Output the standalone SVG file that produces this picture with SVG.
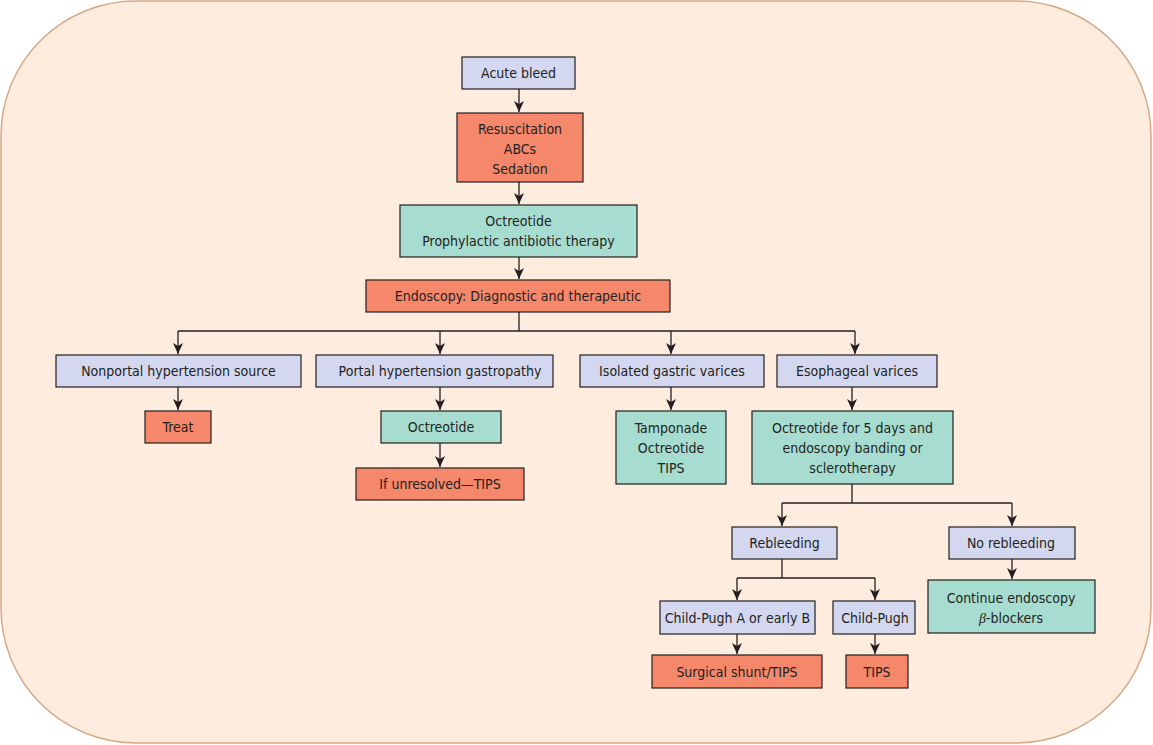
<svg xmlns="http://www.w3.org/2000/svg" width="1153" height="745" viewBox="0 0 1153 745">
<style>
.bg{fill:#FEEDDE;stroke:#D9A784;stroke-width:1.5}
.b{fill:#D3D8F0;stroke:#231F20;stroke-width:1.2}
.s{fill:#F5876A;stroke:#231F20;stroke-width:1.2}
.t{fill:#A6DDD0;stroke:#231F20;stroke-width:1.2}
text{font-family:"Liberation Sans Narrow","DejaVu Sans Condensed","Roboto",sans-serif;font-size:14px;fill:#231F20;text-anchor:middle}
.c{fill:none;stroke:#231F20;stroke-width:1.3}
</style>
<defs>
<marker id="ah" markerWidth="12" markerHeight="12" refX="11" refY="5" orient="auto" markerUnits="userSpaceOnUse">
<path d="M0,0 L11,5 L0,10 L3,5 Z" fill="#231F20"/>
</marker>
</defs>
<rect class="bg" x="1" y="1" width="1150" height="742" rx="135" ry="135"/>
<g id="connectors">
<path class="c" d="M519,89 V112" marker-end="url(#ah)"/>
<path class="c" d="M519,182 V204" marker-end="url(#ah)"/>
<path class="c" d="M519,257 V279" marker-end="url(#ah)"/>
<path class="c" d="M519,312 V331 M178,331 H855"/>
<path class="c" d="M178,331 V354" marker-end="url(#ah)"/>
<path class="c" d="M440,331 V354" marker-end="url(#ah)"/>
<path class="c" d="M671,331 V354" marker-end="url(#ah)"/>
<path class="c" d="M855,331 V354" marker-end="url(#ah)"/>
<path class="c" d="M178,387 V410" marker-end="url(#ah)"/>
<path class="c" d="M440,387 V410" marker-end="url(#ah)"/>
<path class="c" d="M440,443 V467" marker-end="url(#ah)"/>
<path class="c" d="M671,387 V410" marker-end="url(#ah)"/>
<path class="c" d="M852,387 V410" marker-end="url(#ah)"/>
<path class="c" d="M852,484 V503 M782,503 H1012"/>
<path class="c" d="M782,503 V526" marker-end="url(#ah)"/>
<path class="c" d="M1012,503 V526" marker-end="url(#ah)"/>
<path class="c" d="M1012,559 V579" marker-end="url(#ah)"/>
<path class="c" d="M782,559 V578 M737,578 H875"/>
<path class="c" d="M737,578 V600" marker-end="url(#ah)"/>
<path class="c" d="M875,578 V600" marker-end="url(#ah)"/>
<path class="c" d="M737,634 V654" marker-end="url(#ah)"/>
<path class="c" d="M875,634 V654" marker-end="url(#ah)"/>
</g>
<g id="acute"><rect class="b" x="462" y="57" width="113" height="32"/><text x="518.5" y="78">Acute bleed</text></g>
<g id="resus"><rect class="s" x="457" y="113" width="126" height="69"/><text x="520" y="134">Resuscitation</text><text x="520" y="154">ABCs</text><text x="520" y="174">Sedation</text></g>
<g id="octreo1"><rect class="t" x="400" y="205" width="237" height="52"/><text x="518.5" y="226">Octreotide</text><text x="518.5" y="246">Prophylactic antibiotic therapy</text></g>
<g id="endo"><rect class="s" x="366" y="280" width="304" height="32"/><text x="518" y="301">Endoscopy: Diagnostic and therapeutic</text></g>
<g id="nonportal"><rect class="b" x="56" y="355" width="245" height="32"/><text x="178.5" y="376">Nonportal hypertension source</text></g>
<g id="portal"><rect class="b" x="316" y="355" width="237" height="32"/><text x="440" y="376">Portal hypertension gastropathy</text></g>
<g id="isolated"><rect class="b" x="580" y="355" width="184" height="32"/><text x="672" y="376">Isolated gastric varices</text></g>
<g id="esoph"><rect class="b" x="777" y="355" width="160" height="32"/><text x="857" y="376">Esophageal varices</text></g>
<g id="treat"><rect class="s" x="145" y="411" width="66" height="32"/><text x="178" y="432">Treat</text></g>
<g id="octreo2"><rect class="t" x="381" y="411" width="120" height="32"/><text x="441" y="432">Octreotide</text></g>
<g id="unresolved"><rect class="s" x="356" y="468" width="168" height="32"/><text x="440" y="489">If unresolved—TIPS</text></g>
<g id="tamponade"><rect class="t" x="616" y="411" width="110" height="73"/><text x="671" y="433">Tamponade</text><text x="671" y="453">Octreotide</text><text x="671" y="473">TIPS</text></g>
<g id="octreo5"><rect class="t" x="752" y="411" width="201" height="73"/><text x="852.5" y="433">Octreotide for 5 days and</text><text x="852.5" y="453">endoscopy banding or</text><text x="852.5" y="473">sclerotherapy</text></g>
<g id="rebleed"><rect class="b" x="732" y="527" width="105" height="32"/><text x="784.5" y="548">Rebleeding</text></g>
<g id="norebleed"><rect class="b" x="949" y="527" width="126" height="32"/><text x="1011" y="548">No rebleeding</text></g>
<g id="continue"><rect class="t" x="928" y="580" width="167" height="53"/><text x="1011" y="603">Continue endoscopy</text><text x="1011" y="623"><tspan font-style="italic" font-family="'Liberation Serif',serif">β</tspan>-blockers</text></g>
<g id="childA"><rect class="b" x="660" y="601" width="155" height="33"/><text x="737.5" y="623">Child-Pugh A or early B</text></g>
<g id="childP"><rect class="b" x="833" y="601" width="82" height="33"/><text x="875" y="623">Child-Pugh</text></g>
<g id="shunt"><rect class="s" x="652" y="655" width="170" height="33"/><text x="737" y="677">Surgical shunt/TIPS</text></g>
<g id="tips"><rect class="s" x="846" y="655" width="62" height="33"/><text x="877" y="677">TIPS</text></g>
</svg>
